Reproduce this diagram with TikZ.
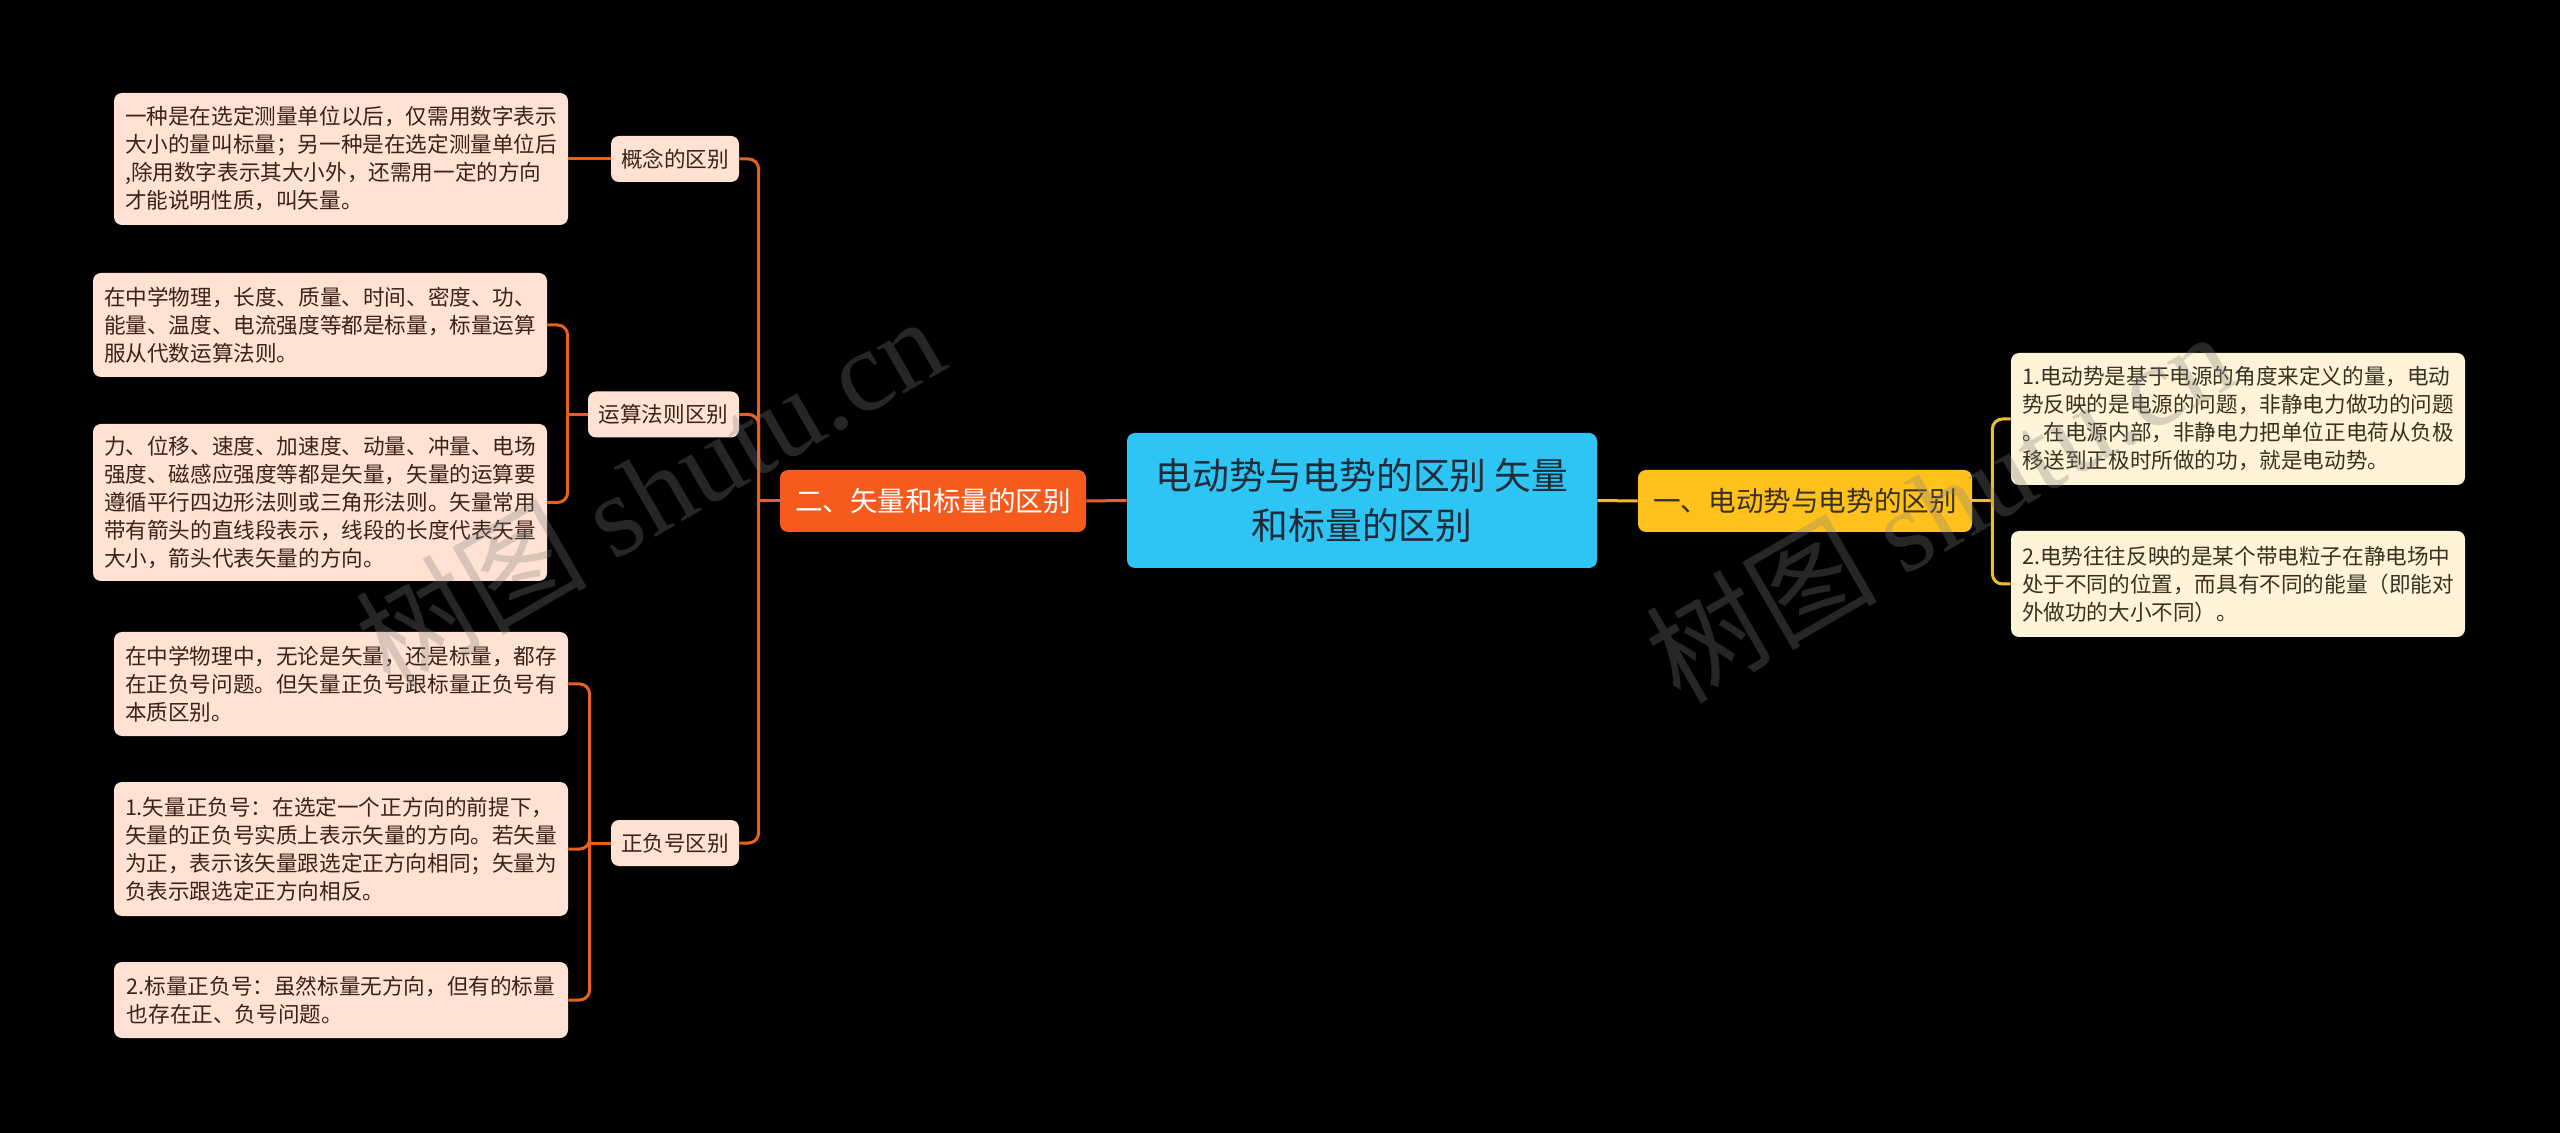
\documentclass[tikz,border=0pt]{standalone}
\usepackage{fontspec}
\setmainfont{Noto Sans CJK SC}
\newfontfamily\wmlatin{Liberation Serif}
\usetikzlibrary{calc}
\definecolor{centerc}{HTML}{2EC4F4}
\definecolor{rmainc}{HTML}{FFC21C}
\definecolor{rleafc}{HTML}{FFF4D8}
\definecolor{lmainc}{HTML}{F65A1C}
\definecolor{lleafc}{HTML}{FFE2D3}
\definecolor{llinec}{HTML}{E8621E}
\definecolor{rlinec}{HTML}{F0BD2A}
\definecolor{ltext}{HTML}{3A2318}
\definecolor{rtext}{HTML}{3A3020}
\definecolor{ctext}{HTML}{1E2B38}
\begin{document}
\begin{tikzpicture}[x=0.5pt,y=-0.5pt,
  basebox/.style={rounded corners=4pt, inner sep=0pt, anchor=center},
  leaftext/.style={font=\fontsize{10.8pt}{14pt}\selectfont, align=left},
  lleaf/.style={basebox, leaftext, fill=lleafc, text=ltext, minimum width=227pt},
  rleaf/.style={basebox, leaftext, fill=rleafc, text=rtext, minimum width=227pt},
  lsub/.style={basebox, fill=lleafc, text=ltext, minimum height=23pt, font=\fontsize{10.8pt}{14pt}\selectfont},
  mainbox/.style={basebox, minimum height=31pt, font=\fontsize{13.8pt}{17pt}\selectfont},
  lconn/.style={draw=llinec, line width=1.5pt},
  rconn/.style={draw=rlinec, line width=1.5pt},
  wm/.style={text=gray, text opacity=0.3, font=\fontsize{58pt}{60pt}\selectfont, rotate=30}
]
\fill[black] (0,0) rectangle (2560,1133);
\useasboundingbox (0,0) rectangle (2560,1133);

% central node
\node[basebox, fill=centerc, text=ctext, minimum width=235pt, minimum height=67.5pt,
  align=center, font=\fontsize{18.4pt}{25pt}\selectfont] (c) at (1362,500.5)
  {电动势与电势的区别 矢量\\和标量的区别};

% right branch
\node[mainbox, fill=rmainc, text=rtext, minimum width=167pt] (rm) at (1805,501) {一、电动势与电势的区别};
\node[rleaf, minimum height=66pt] (r1) at (2238,419)
  {1.电动势是基于电源的角度来定义的量，电动\\势反映的是电源的问题，非静电力做功的问题\\。在电源内部，非静电力把单位正电荷从负极\\移送到正极时所做的功，就是电动势。};
\node[rleaf, minimum height=53pt] (r2) at (2238,584)
  {2.电势往往反映的是某个带电粒子在静电场中\\处于不同的位置，而具有不同的能量（即能对\\外做功的大小不同）。};

% left branch
\node[mainbox, fill=lmainc, text=white, minimum width=153pt] (lm) at (933,501) {二、矢量和标量的区别};
\node[lsub, minimum width=64pt] (g1) at (675,159) {概念的区别};
\node[lsub, minimum width=75.5pt] (g2) at (663.5,414.5) {运算法则区别};
\node[lsub, minimum width=64pt] (g3) at (675,843) {正负号区别};

\node[lleaf, minimum height=66pt] (l1) at (341,159)
  {一种是在选定测量单位以后，仅需用数字表示\\大小的量叫标量；另一种是在选定测量单位后\\,除用数字表示其大小外，还需用一定的方向\\才能说明性质，叫矢量。};
\node[lleaf, minimum height=52pt] (l2a) at (320,325)
  {在中学物理，长度、质量、时间、密度、功、\\能量、温度、电流强度等都是标量，标量运算\\服从代数运算法则。};
\node[lleaf, minimum height=78.5pt] (l2b) at (320,502.5)
  {力、位移、速度、加速度、动量、冲量、电场\\强度、磁感应强度等都是矢量，矢量的运算要\\遵循平行四边形法则或三角形法则。矢量常用\\带有箭头的直线段表示，线段的长度代表矢量\\大小，箭头代表矢量的方向。};
\node[lleaf, minimum height=52pt] (l3a) at (341,684)
  {在中学物理中，无论是矢量，还是标量，都存\\在正负号问题。但矢量正负号跟标量正负号有\\本质区别。};
\node[lleaf, minimum height=67pt] (l3b) at (341,849)
  {1.矢量正负号：在选定一个正方向的前提下，\\矢量的正负号实质上表示矢量的方向。若矢量\\为正，表示该矢量跟选定正方向相同；矢量为\\负表示跟选定正方向相反。};
\node[lleaf, minimum height=38pt] (l3c) at (341,1000)
  {2.标量正负号：虽然标量无方向，但有的标量\\也存在正、负号问题。};

% connectors
\draw[lconn] (c.west) -- (lm.east);
\draw[rconn] (c.east) -- (rm.west);

\draw[lconn] (lm.west) -- ++(-21,0) coordinate (lj);
\foreach \n in {g1,g2,g3} \draw[lconn, rounded corners=5pt] (lj) |- (\n.east);

\draw[lconn] (g1.west) -- (l1.east);

\draw[lconn] (g2.west) -- ++(-20,0) coordinate (j2);
\foreach \n in {l2a,l2b} \draw[lconn, rounded corners=5pt] (j2) |- (\n.east);

\draw[lconn] (g3.west) -- ++(-21,0) coordinate (j3);
\foreach \n in {l3a,l3b,l3c} \draw[lconn, rounded corners=5pt] (j3) |- (\n.east);

\draw[rconn] (rm.east) -- ++(20,0) coordinate (rj);
\foreach \n in {r1,r2} \draw[rconn, rounded corners=5pt] (rj) |- (\n.west);

% watermarks
\node[wm] (wm1) at (649,490) {树图 {\wmlatin shutu.cn}};
\node[wm] (wm2) at (1939,505) {树图 {\wmlatin shutu.cn}};
\end{tikzpicture}
\end{document}
